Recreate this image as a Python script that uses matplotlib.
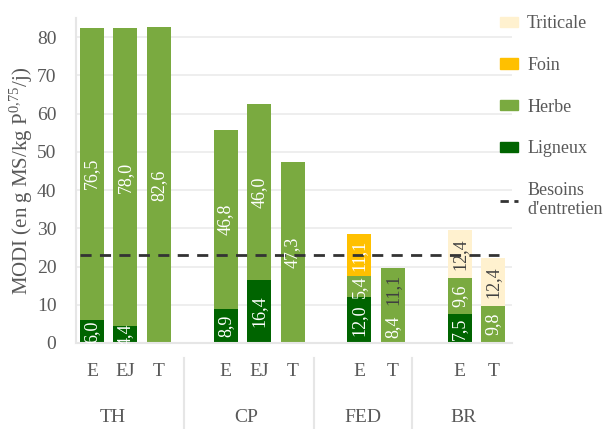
import numpy as np
import matplotlib.pyplot as plt
from matplotlib.patches import Patch
from matplotlib.lines import Line2D

# one entry per bar, left to right
cats = ['E', 'EJ', 'T', 'E', 'EJ', 'T', 'E', 'T', 'E', 'T']
groups = ['TH', 'CP', 'FED', 'BR']
slots = [0, 1, 2, 4, 5, 6, 8, 9, 11, 12]

ligneux = [6.0, 4.4, 0, 8.9, 16.4, 0, 12.0, 0, 7.5, 0]
herbe = [76.5, 78.0, 82.6, 46.8, 46.0, 47.3, 5.4, 8.4, 9.6, 9.8]
herbe2 = [0, 0, 0, 0, 0, 0, 0, 11.1, 0, 0]   # second green part (FED T)
foin = [0, 0, 0, 0, 0, 0, 11.1, 0, 0, 0]
triticale = [0, 0, 0, 0, 0, 0, 0, 0, 12.4, 12.4]
besoins = 23.0

C_LIG = '#006400'
C_HER = '#7AAA40'
C_FOIN = '#FFC000'
C_TRI = '#FFF1CF'
GREY = '#595959'

plt.rcParams['font.family'] = ['Liberation Serif', 'DejaVu Serif']


def main():
    fig = plt.figure(figsize=(6.12, 4.29), dpi=100)
    ax = fig.add_axes([0.124, 0.2005, 0.713, 0.7575])
    x = np.array(slots, dtype=float)
    w = 0.72

    series = [
        (ligneux, C_LIG, 'white'),
        (herbe, C_HER, 'white'),
        (herbe2, C_HER, '#404040'),
        (foin, C_FOIN, 'white'),
        (triticale, C_TRI, '#404040'),
    ]
    bottom = np.zeros(len(x))
    for vals, col, tcol in series:
        v = np.array(vals)
        ax.bar(x, v, w, bottom=bottom, color=col, zorder=2)
        for xi, b, vi in zip(x, bottom, v):
            if vi > 0:
                ax.text(xi, b + vi / 2, f'{vi:.1f}'.replace('.', ','),
                        rotation=90, ha='center', va='center',
                        color=tcol, fontsize=13, zorder=4)
        bottom += v

    ax.axhline(besoins, color='#333333', ls=(0, (4, 3)), lw=2, zorder=3,
               xmin=0.01, xmax=0.97)

    ax.set_xlim(-0.48, 12.57)
    ax.set_ylim(0, 85)
    ax.set_yticks(range(0, 81, 10))
    ax.set_xticks([])
    ax.tick_params(axis='y', length=0, labelsize=14, colors=GREY, pad=14)
    ax.yaxis.grid(True, color='#EBEBEB', lw=1.2, zorder=0)
    ax.set_axisbelow(True)
    for s in ['top', 'right']:
        ax.spines[s].set_visible(False)
    ax.spines['left'].set_color('#E6E6E6')
    ax.spines['bottom'].set_color('#E6E6E6')
    ax.spines['left'].set_linewidth(1.5)
    ax.spines['bottom'].set_linewidth(1.5)

    ax.set_ylabel('MODI (en g MS/kg P$^{\\mathregular{0{,}75}}$/j)',
                  fontsize=15, color=GREY, labelpad=1)

    trans = ax.get_xaxis_transform()
    for xi, c in zip(x, cats):
        ax.text(xi, -0.089, c, transform=trans, ha='center', va='center',
                fontsize=14, color=GREY, clip_on=False)
    group_x = [0.63, 4.6, 8.1, 11.1]
    for gx, g in zip(group_x, groups):
        ax.text(gx, -0.228, g, transform=trans, ha='center', va='center',
                fontsize=14, color=GREY, clip_on=False)
    for sx in [2.75, 6.65, 9.58]:
        ax.plot([sx, sx], [-0.045, -0.3], transform=trans, color='#E6E6E6',
                lw=1.5, clip_on=False)

    handles = [
        Patch(color=C_TRI, label='Triticale'),
        Patch(color=C_FOIN, label='Foin'),
        Patch(color=C_HER, label='Herbe'),
        Patch(color=C_LIG, label='Ligneux'),
        Line2D([], [], color='#333333', ls=(0, (3, 2)), lw=2,
               label="Besoins\nd'entretien"),
    ]
    leg = fig.legend(handles=handles, loc='upper left',
                     bbox_to_anchor=(0.817, 0.964), frameon=False,
                     borderpad=0, borderaxespad=0,
                     fontsize=13, labelspacing=1.36, handlelength=1.0,
                     handleheight=0.5, handletextpad=0.5)
    for t in leg.get_texts():
        t.set_color(GREY)

    fig.savefig('out.png', dpi=100)


if __name__ == "__main__":
    main()
